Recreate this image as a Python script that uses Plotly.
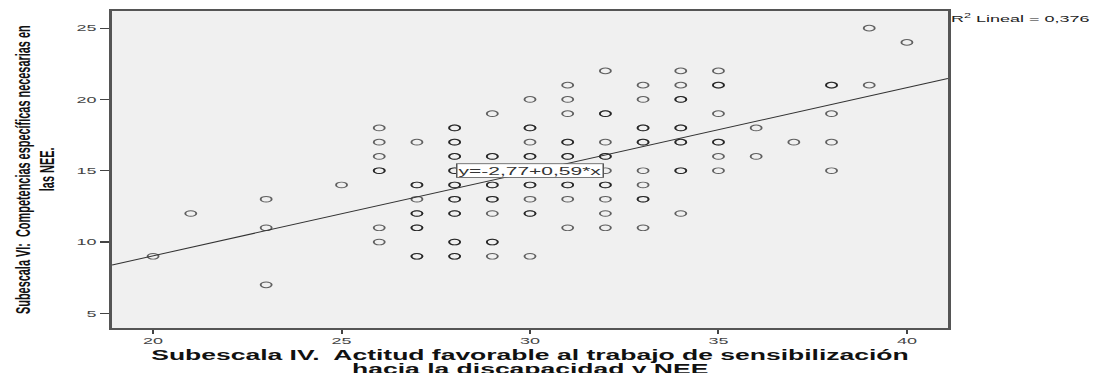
import numpy as np
import plotly.graph_objects as go

# Subescala IV (x) / Subescala VI (y) score pairs and number of cases at each pair
subescala_iv = [
    20,
    21,
    23, 23, 23,
    25,
    26, 26, 26, 26, 26, 26,
    27, 27, 27, 27, 27, 27,
    28, 28, 28, 28, 28, 28, 28, 28, 28,
    29, 29, 29, 29, 29, 29, 29, 29,
    30, 30, 30, 30, 30, 30, 30, 30, 30,
    31, 31, 31, 31, 31, 31, 31, 31, 31,
    32, 32, 32, 32, 32, 32, 32, 32, 32,
    33, 33, 33, 33, 33, 33, 33, 33,
    34, 34, 34, 34, 34, 34, 34,
    35, 35, 35, 35, 35, 35,
    36, 36,
    37,
    38, 38, 38, 38,
    39, 39,
    40,
]
subescala_vi = [
    9,
    12,
    13, 11, 7,
    14,
    18, 17, 16, 15, 11, 10,
    17, 14, 13, 12, 11, 9,
    18, 17, 16, 15, 14, 13, 12, 10, 9,
    19, 16, 15, 14, 13, 12, 10, 9,
    20, 18, 17, 16, 15, 14, 13, 12, 9,
    21, 20, 19, 17, 16, 15, 14, 13, 11,
    22, 19, 17, 16, 15, 14, 13, 12, 11,
    21, 20, 18, 17, 15, 14, 13, 11,
    22, 21, 20, 18, 17, 15, 12,
    22, 21, 19, 17, 16, 15,
    18, 16,
    17,
    21, 19, 17, 15,
    25, 21,
    24,
]
casos = [
    1,
    1,
    1, 1, 1,
    1,
    1, 1, 1, 2, 1, 1,
    1, 2, 1, 2, 2, 2,
    2, 2, 2, 2, 2, 2, 2, 2, 2,
    1, 2, 1, 2, 2, 1, 2, 1,
    1, 2, 1, 2, 1, 2, 1, 2, 1,
    1, 1, 1, 2, 2, 1, 2, 1, 1,
    1, 2, 1, 2, 1, 2, 1, 1, 1,
    1, 1, 2, 2, 1, 1, 2, 1,
    1, 1, 2, 2, 2, 2, 1,
    1, 2, 1, 2, 1, 1,
    1, 1,
    1,
    2, 1, 1, 1,
    1, 1,
    1,
]
assert len(subescala_iv) == len(subescala_vi) == len(casos)

# Linear fit reported on the chart
intercepto = -2.77
pendiente = 0.59
r2_lineal = "0,376"

x_range = [18.91, 41.09]
y_range = [3.95, 26.21]

# The page is drawn tall and then squeezed vertically
W, H = 1106, 717
S = 373 / H

FONT = "Liberation Sans, Arial, sans-serif"

# one marker per case; overlapping semi-transparent rings darken repeated pairs
xs = np.repeat(np.array(subescala_iv), casos)
ys = np.repeat(np.array(subescala_vi), casos)

fig = go.Figure()
fig.add_trace(go.Scatter(
    x=xs, y=ys, mode="markers",
    marker=dict(symbol="circle-open", size=11, color="rgba(0,0,0,0.6)",
                line=dict(width=1.9, color="rgba(0,0,0,0.6)")),
    hoverinfo="skip", showlegend=False,
))

fit_x = np.array(x_range)
fit_y = intercepto + pendiente * fit_x
fig.add_trace(go.Scatter(
    x=fit_x, y=fit_y, mode="lines",
    line=dict(color="#333333", width=1.8),
    hoverinfo="skip", showlegend=False,
))

title_font = dict(family=FONT, size=26.5, color="#111111")
ytitle_font = dict(family=FONT, size=21, color="#111111")

annotations = [
    dict(x=30, y=15, xref="x", yref="y",
         text="y=-2,77+0,59*x", showarrow=False,
         font=dict(family=FONT, size=21, color="#333333"),
         bgcolor="white", bordercolor="#555555", borderwidth=1.5, borderpad=1),
    dict(x=1.001, y=0.978, xref="paper", yref="paper", xanchor="left", yanchor="middle",
         text="R<sup>2</sup> Lineal = " + r2_lineal, showarrow=False,
         font=dict(family=FONT, size=18, color="#222222")),
    # x-axis title, two lines
    dict(x=0.5, y=-0.085, xref="paper", yref="paper", xanchor="center", yanchor="middle",
         text="<b>Subescala IV.  Actitud favorable al trabajo de sensibilización</b>",
         showarrow=False, font=title_font),
    dict(x=0.5, y=-0.128, xref="paper", yref="paper", xanchor="center", yanchor="middle",
         text="<b>hacia la discapacidad y NEE</b>",
         showarrow=False, font=title_font),
    # y-axis title, two lines
    dict(x=-0.1077, y=0.5, xref="paper", yref="paper", xanchor="center", yanchor="middle",
         textangle=-90,
         text="<b>Subescala VI:  Competencias específicas necesarias en</b>",
         showarrow=False, font=ytitle_font),
    dict(x=-0.0795, y=0.5, xref="paper", yref="paper", xanchor="center", yanchor="middle",
         textangle=-90,
         text="<b>las NEE.</b>",
         showarrow=False, font=ytitle_font),
]

fig.update_layout(
    width=W, height=H,
    margin=dict(l=112, r=158, t=21, b=86),
    paper_bgcolor="white",
    plot_bgcolor="#f0f0f0",
    annotations=annotations,
    showlegend=False,
)
fig.update_xaxes(
    range=x_range, tickvals=[20, 25, 30, 35, 40],
    showgrid=False, zeroline=False,
    showline=True, linecolor="#555555", linewidth=3.5, mirror=True,
    ticks="outside", ticklen=8, tickwidth=2, tickcolor="#444444",
    ticklabelstandoff=-4,
    tickfont=dict(family=FONT, size=18, color="#444444"),
)
fig.update_yaxes(
    range=y_range, tickvals=[5, 10, 15, 20, 25],
    showgrid=False, zeroline=False,
    showline=True, linecolor="#555555", linewidth=3, mirror=True,
    ticks="outside", ticklen=9, tickwidth=2, tickcolor="#444444",
    tickfont=dict(family=FONT, size=18, color="#444444"),
)

post = (
    "var gd = document.getElementById('{plot_id}');"
    "document.documentElement.style.overflow = 'hidden';"
    "document.body.style.margin = '0';"
    "document.body.style.overflow = 'hidden';"
    "gd.parentElement.style.height = '373px';"
    "gd.parentElement.style.overflow = 'hidden';"
    "gd.style.transformOrigin = '0 0';"
    "gd.style.transform = 'scaleY(" + repr(S) + ")';"
)

fig.write_html("out.html", config={"displayModeBar": False}, post_script=post)
